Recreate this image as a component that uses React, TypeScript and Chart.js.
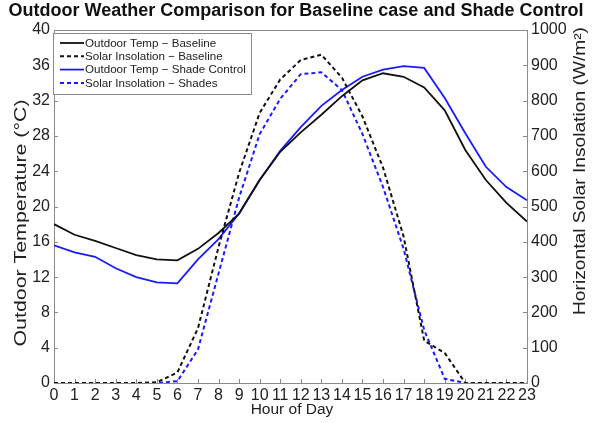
import React, { useEffect, useRef } from 'react';
import { Chart, registerables } from 'chart.js';

Chart.register(...registerables);

const hours = [0, 1, 2, 3, 4, 5, 6, 7, 8, 9, 10, 11, 12, 13, 14, 15, 16, 17, 18, 19, 20, 21, 22, 23];
const tempBaseline = [18.0, 16.8, 16.1, 15.3, 14.5, 14.0, 13.9, 15.2, 17.0, 19.2, 23.0, 26.2, 28.4, 30.4, 32.5, 34.3, 35.1, 34.7, 33.5, 30.9, 26.4, 23.0, 20.4, 18.3];
const tempShade = [15.6, 14.8, 14.3, 13.0, 12.0, 11.4, 11.3, 14.0, 16.3, 19.2, 23.0, 26.3, 29.0, 31.4, 33.2, 34.7, 35.5, 35.9, 35.7, 32.3, 28.3, 24.5, 22.2, 20.7];
const solarBaseline = [0, 0, 0, 0, 0, 2, 30, 155, 385, 595, 765, 860, 915, 930, 865, 755, 610, 415, 120, 85, 0, 0, 0, 0];
const solarShade = [0, 0, 0, 0, 0, 0, 5, 95, 310, 525, 705, 805, 875, 880, 830, 705, 555, 380, 150, 12, 0, 0, 0, 0];

const seriesLabels = [
  'Outdoor Temp \u2212 Baseline',
  'Solar Insolation \u2212 Baseline',
  'Outdoor Temp \u2212 Shade Control',
  'Solar Insolation \u2212 Shades',
];
const titleText = 'Outdoor Weather Comparison for Baseline case and Shade Control';
const xTitle = 'Hour of Day';
const yTitle = 'Outdoor Temperature (\u00B0C)';
const y1Title = 'Horizontal Solar Insolation (W/m\u00B2)';

const BLACK = '#111111';
const BLUE = '#1a1aff';
const AXIS = '#8a8a8a';
const FONT = '"Liberation Sans", Arial, sans-serif';

const toPts = (arr: number[]) => hours.map((h, i) => ({ x: h, y: arr[i] }));

function drawStretchedVertical(ctx: CanvasRenderingContext2D, text: string, cx: number, cy: number, targetLen: number) {
  ctx.save();
  ctx.font = `16px ${FONT}`;
  const w = ctx.measureText(text).width;
  const s = targetLen / w;
  ctx.translate(cx, cy);
  ctx.rotate(-Math.PI / 2);
  ctx.scale(s, 1);
  ctx.textAlign = 'center';
  ctx.textBaseline = 'middle';
  ctx.fillStyle = '#222';
  ctx.fillText(text, 0, 0);
  ctx.restore();
}

const framePlugin = {
  id: 'frame',
  beforeDatasetsDraw(chart: any) {
    const { ctx, chartArea } = chart;
    const { left, right, top, bottom } = chartArea;
    ctx.save();
    ctx.strokeStyle = AXIS;
    ctx.lineWidth = 1;
    ctx.strokeRect(Math.round(left) + 0.5, Math.round(top) + 0.5, Math.round(right - left), Math.round(bottom - top));
    ctx.beginPath();
    const sx = chart.scales.x;
    sx.ticks.forEach((t: any) => {
      const px = Math.round(sx.getPixelForValue(t.value)) + 0.5;
      ctx.moveTo(px, bottom);
      ctx.lineTo(px, bottom - 4);
    });
    const yl = chart.scales.y;
    yl.ticks.forEach((t: any) => {
      const py = Math.round(yl.getPixelForValue(t.value)) + 0.5;
      ctx.moveTo(left, py);
      ctx.lineTo(left + 4, py);
    });
    const yr = chart.scales.y1;
    yr.ticks.forEach((t: any) => {
      const py = Math.round(yr.getPixelForValue(t.value)) + 0.5;
      ctx.moveTo(right, py);
      ctx.lineTo(right - 4, py);
    });
    ctx.stroke();
    ctx.restore();
  },
  afterDraw(chart: any) {
    const { ctx } = chart;
    ctx.save();
    // title
    ctx.fillStyle = '#111';
    ctx.font = `bold 18px ${FONT}`;
    ctx.textAlign = 'center';
    ctx.textBaseline = 'alphabetic';
    ctx.fillText(titleText, 296, 16);
    // axis titles
    ctx.font = `15.5px ${FONT}`;
    ctx.fillStyle = '#222';
    ctx.textBaseline = 'middle';
    ctx.fillText(xTitle, 292, 410);
    drawStretchedVertical(ctx, yTitle, 22, 223, 247);
    drawStretchedVertical(ctx, y1Title, 581, 171, 288);
    // legend
    const bx = 53.5, by = 33.5, bw = 198, bh = 61;
    ctx.fillStyle = '#fff';
    ctx.fillRect(bx, by, bw, bh);
    ctx.strokeStyle = AXIS;
    ctx.lineWidth = 1;
    ctx.strokeRect(bx, by, bw, bh);
    ctx.font = `11.6px ${FONT}`;
    ctx.textAlign = 'left';
    ctx.textBaseline = 'middle';
    chart.data.datasets.forEach((ds: any, i: number) => {
      const yy = 43 + i * 13.3;
      ctx.beginPath();
      ctx.strokeStyle = ds.borderColor;
      ctx.lineWidth = ds.borderWidth;
      ctx.setLineDash(ds.borderDash || []);
      ctx.moveTo(60, yy);
      ctx.lineTo(84, yy);
      ctx.stroke();
      ctx.setLineDash([]);
      ctx.fillStyle = '#222';
      ctx.fillText(ds.label, 85, yy + 0.5);
    });
    ctx.restore();
  },
};

export default function App() {
  const ref = useRef<HTMLCanvasElement | null>(null);
  useEffect(() => {
    if (!ref.current) return;
    const tickFont = { size: 16, family: FONT };
    const chart = new Chart(ref.current, {
      type: 'line',
      data: {
        datasets: [
          { label: seriesLabels[0], data: toPts(tempBaseline), yAxisID: 'y', borderColor: BLACK, borderWidth: 1.8, pointRadius: 0, tension: 0 },
          { label: seriesLabels[1], data: toPts(solarBaseline), yAxisID: 'y1', borderColor: BLACK, borderWidth: 2, borderDash: [4, 3], pointRadius: 0, tension: 0 },
          { label: seriesLabels[2], data: toPts(tempShade), yAxisID: 'y', borderColor: BLUE, borderWidth: 1.8, pointRadius: 0, tension: 0 },
          { label: seriesLabels[3], data: toPts(solarShade), yAxisID: 'y1', borderColor: BLUE, borderWidth: 2, borderDash: [4, 3], pointRadius: 0, tension: 0 },
        ],
      },
      options: {
        animation: false,
        responsive: true,
        maintainAspectRatio: false,
        layout: { padding: { top: 30, left: 0, right: 0, bottom: 0 } },
        plugins: { legend: { display: false }, title: { display: false }, tooltip: { enabled: false } },
        scales: {
          x: {
            type: 'linear',
            min: 0,
            max: 23,
            grid: { display: false, drawTicks: false },
            border: { display: false },
            ticks: { stepSize: 1, autoSkip: false, maxRotation: 0, padding: 3, color: '#222', font: tickFont },
            afterFit: (s: any) => { s.height = 40; },
          },
          y: {
            position: 'left',
            min: 0,
            max: 40,
            grid: { display: false, drawTicks: false },
            border: { display: false },
            ticks: { stepSize: 4, padding: 4, color: '#222', font: tickFont },
            afterFit: (s: any) => { s.width = 54; },
          },
          y1: {
            position: 'right',
            min: 0,
            max: 1000,
            grid: { display: false, drawTicks: false },
            border: { display: false },
            ticks: { stepSize: 100, padding: 4, color: '#222', font: tickFont, callback: (v: any) => String(v) },
            afterFit: (s: any) => { s.width = 65; },
          },
        },
      },
      plugins: [framePlugin],
    });
    return () => chart.destroy();
  }, []);
  return (
    <div style={{ position: 'fixed', left: 0, top: 0, width: 592, height: 423, background: '#fff' }}>
      <canvas ref={ref} />
    </div>
  );
}
